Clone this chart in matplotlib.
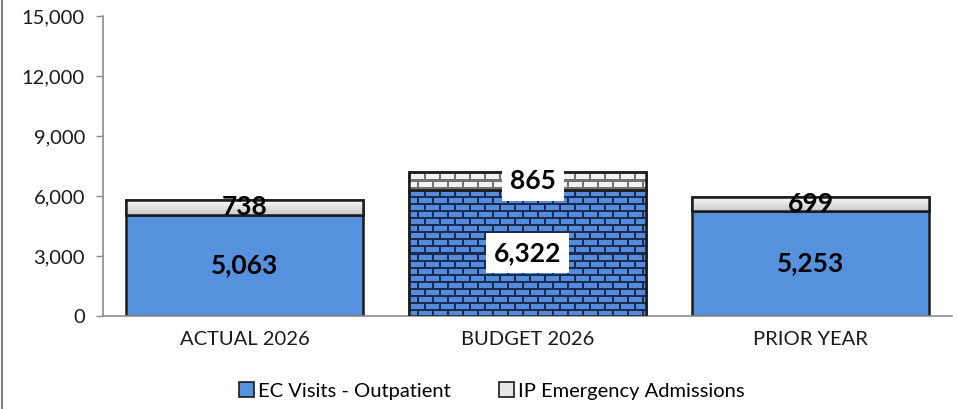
import numpy as np
import matplotlib
matplotlib.use("Agg")
import matplotlib.pyplot as plt
from matplotlib.patches import Patch
from matplotlib.ticker import FuncFormatter

# chart data
categories = ["ACTUAL 2026", "BUDGET 2026", "PRIOR YEAR"]
ec_visits = [5063, 6322, 5253]
ip_admissions = [738, 865, 699]
series_names = ["EC Visits - Outpatient", "IP Emergency Admissions"]
y_ticks = [0, 3000, 6000, 9000, 12000, 15000]

plt.rcParams["font.family"] = ["Lato", "DejaVu Sans"]

BLUE = "#5591DC"
EDGE = "#1c1c1c"
GRAY_TOP = "#F4F4F4"
AXIS_GRAY = "#8c8c8c"


def brick_texture(h, w, brick_h, brick_w, brick_rgb, mortar_rgb, mortar=2):
    # simple running-bond brick pattern, one array cell per screen pixel
    img = np.empty((h, w, 3))
    img[:] = brick_rgb
    for y in range(h):
        row = y // brick_h
        off = (brick_w // 2) * (row % 2)
        for x in range(w):
            if y % brick_h < mortar or (x + off) % brick_w < mortar:
                img[y, x] = mortar_rgb
    return img


def gray_gradient(h, w):
    # light top fading to a soft grey at the bottom
    t = np.linspace(0, 1, h)[:, None, None]
    top = np.array([0.97, 0.97, 0.97])
    bot = np.array([0.80, 0.80, 0.80])
    img = top * (1 - t) + bot * t
    return np.repeat(img, w, axis=1)


fig = plt.figure(figsize=(9.57, 4.09), dpi=100)
ax = fig.add_axes([103 / 957, 1 - 316 / 409, (952 - 103) / 957, 300 / 409])

x = np.arange(len(categories))
width = 0.84

bars_ec = ax.bar(x, ec_visits, width, color=BLUE, edgecolor=EDGE, linewidth=1.8, zorder=2)
bars_ip = ax.bar(x, ip_admissions, width, bottom=ec_visits, color=GRAY_TOP,
                 edgecolor=EDGE, linewidth=1.8, zorder=2)

ax.set_xlim(-0.5, 2.5)
ax.set_ylim(0, 15000)
ax.set_yticks(y_ticks)
ax.yaxis.set_major_formatter(FuncFormatter(lambda v, p: f"{int(v):,}"))
ax.set_xticks(x)
ax.set_xticklabels(categories)
ax.tick_params(axis="x", length=0, pad=11, labelsize=14.5, labelcolor="#1a1a1a")
ax.tick_params(axis="y", length=5, width=1, color=AXIS_GRAY, pad=8,
               labelsize=14.5, labelcolor="#1a1a1a")
for side in ["top", "right"]:
    ax.spines[side].set_visible(False)
for side in ["left", "bottom"]:
    ax.spines[side].set_color(AXIS_GRAY)
    ax.spines[side].set_linewidth(1.2)

fig.canvas.draw()

# textures: brick for the budget bar, gradient for the grey caps
for i, (b_ec, b_ip) in enumerate(zip(bars_ec, bars_ip)):
    for bar, kind in [(b_ec, "ec"), (b_ip, "ip")]:
        x0, y0 = bar.get_x(), bar.get_y()
        x1, y1 = x0 + bar.get_width(), y0 + bar.get_height()
        (px0, py0), (px1, py1) = ax.transData.transform([(x0, y0), (x1, y1)])
        w_px = max(int(round(px1 - px0)), 2)
        h_px = max(int(round(py1 - py0)), 2)
        if i == 1 and kind == "ec":
            img = brick_texture(h_px, w_px, 7, 15, (0.33, 0.55, 0.86), (0.10, 0.17, 0.32))
        elif i == 1:
            img = brick_texture(h_px, w_px, 7, 15, (0.95, 0.95, 0.95), (0.45, 0.45, 0.45))
        elif kind == "ip":
            img = gray_gradient(h_px, w_px)
        else:
            continue
        im = ax.imshow(img, extent=(x0, x1, y0, y1), origin="upper",
                       interpolation="nearest", aspect="auto", zorder=2.5)
        im.set_clip_path(bar)
        # redraw the outline on top of the texture
        ax.bar(bar.get_x() + bar.get_width() / 2, bar.get_height(), bar.get_width(),
               bottom=y0, fill=False, edgecolor=EDGE, linewidth=1.8, zorder=3)

ax.set_xlim(-0.5, 2.5)
ax.set_ylim(0, 15000)

# value labels
for i in range(len(categories)):
    boxed = dict(boxstyle="square,pad=0.3", fc="white", ec="none") if i == 1 else None
    ax.text(x[i], ec_visits[i] / 2, f"{ec_visits[i]:,}", ha="center", va="center",
            fontsize=19, fontweight="bold", color="black", bbox=boxed, zorder=5)
    ax.text(x[i] + (0.02 if i == 1 else 0), ec_visits[i] + ip_admissions[i] / 2,
            f"{ip_admissions[i]:,}", ha="center", va="center", fontsize=19,
            fontweight="bold", color="black", bbox=boxed, zorder=5)

handles = [Patch(facecolor=BLUE, edgecolor=EDGE, linewidth=1.2),
           Patch(facecolor="#e6e6e6", edgecolor=EDGE, linewidth=1.2)]
fig.legend(handles, series_names, loc="center", bbox_to_anchor=(492 / 957, 1 - 391 / 409),
           ncol=2, frameon=False, fontsize=14.5, handlelength=0.75, handleheight=0.75,
           handletextpad=0.2, columnspacing=2.4)

# thin frame line along the left edge of the image
fig.add_artist(plt.Line2D([2 / 957, 2 / 957], [0, 1], color="#7f7f7f", linewidth=1.5))

fig.savefig("out.png", dpi=100)
